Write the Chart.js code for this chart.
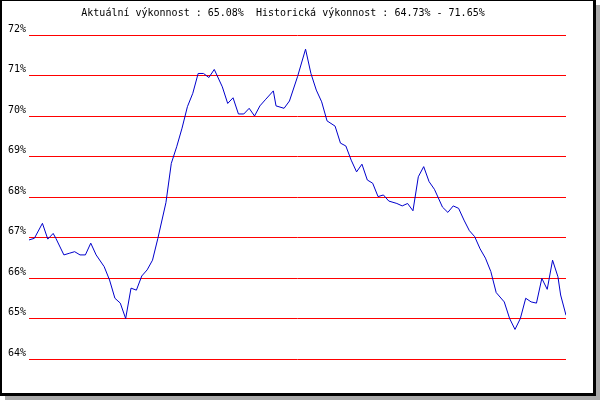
<!DOCTYPE html>
<html>
<head>
<meta charset="utf-8">
<script src="https://cdn.jsdelivr.net/npm/chart.js@4/dist/chart.umd.min.js"></script>
<style>
html,body{margin:0;padding:0;background:#fff;}
#wrap{width:600px;height:400px;position:relative;}
</style>
</head>
<body>
<div id="wrap"><canvas id="c" width="600" height="400"></canvas></div>
<script>
const titleText = 'Aktuální výkonnost : 65.08%  Historická výkonnost : 64.73% - 71.65%';
const yTicks = [64, 65, 66, 67, 68, 69, 70, 71, 72];
const days = [0,2,5,7,9,10,13,15,17,19,21,23,25,28,30,32,34,36,38,40,42,44,46,48,51,53,55,57,59,61,63,65,67,69,72,74,76,78,80,82,84,86,88,91,92,95,97,100,103,105,107,109,111,114,116,118,120,122,124,126,128,130,132,134,137,139,141,143,145,147,149,151,154,156,158,160,162,164,166,168,170,172,174,177,179,181,183,185,187,189,191,193,195,197,198,200];
const perf = [66.94,66.98,67.35,66.96,67.10,66.98,66.57,66.61,66.65,66.57,66.57,66.86,66.57,66.28,65.95,65.50,65.38,65.00,65.75,65.70,66.05,66.20,66.44,66.98,67.86,68.83,69.24,69.70,70.23,70.56,71.05,71.05,70.95,71.15,70.72,70.31,70.45,70.05,70.05,70.19,70.00,70.25,70.40,70.62,70.25,70.19,70.37,70.97,71.65,71.05,70.64,70.35,69.88,69.75,69.33,69.26,68.91,68.62,68.81,68.42,68.34,68.01,68.05,67.90,67.84,67.78,67.84,67.66,68.50,68.75,68.38,68.19,67.75,67.62,67.78,67.72,67.43,67.17,67.02,66.72,66.49,66.16,65.64,65.41,65.00,64.73,65.00,65.50,65.41,65.38,65.99,65.72,66.44,66.03,65.58,65.08];

const framePlugin = {
  id: 'frame',
  beforeDraw(chart) {
    const ctx = chart.ctx;
    ctx.save();
    ctx.fillStyle = '#ffffff';
    ctx.fillRect(0, 0, 600, 400);
    ctx.fillStyle = '#a9a9a9';
    ctx.fillRect(5, 5, 595, 395);
    ctx.fillStyle = '#ffffff';
    ctx.fillRect(0, 0, 596, 396);
    ctx.fillStyle = '#000000';
    ctx.fillRect(0, 0, 596, 1);
    ctx.fillRect(0, 0, 2, 396);
    ctx.fillRect(593, 0, 3, 396);
    ctx.fillRect(0, 393, 596, 3);
    ctx.restore();
  }
};

new Chart(document.getElementById('c'), {
  type: 'line',
  data: {
    datasets: [{
      data: days.map((d, i) => ({x: d, y: perf[i]})),
      borderColor: '#0000cc',
      borderWidth: 1,
      pointRadius: 0,
      tension: 0,
      fill: false
    }]
  },
  options: {
    responsive: false,
    animation: false,
    layout: {padding: {left: 0, right: 34, top: 0, bottom: 41}},
    plugins: {
      legend: {display: false},
      tooltip: {enabled: false},
      title: {
        display: true,
        text: titleText,
        color: '#000',
        font: {family: 'DejaVu Sans Mono', size: 10, weight: 'normal', lineHeight: 1.2},
        padding: {top: 7, bottom: 16}
      }
    },
    scales: {
      x: {type: 'linear', min: 0, max: 200, display: false},
      y: {
        min: yTicks[0],
        max: yTicks[yTicks.length - 1],
        afterFit(s) { s.width = 29; },
        afterBuildTicks(s) { s.ticks = yTicks.map(v => ({value: v})); },
        border: {display: false},
        grid: {color: '#ff0000', lineWidth: 1, drawTicks: false},
        ticks: {
          color: '#000',
          padding: 3,
          labelOffset: -6,
          font: {family: 'DejaVu Sans Mono', size: 10},
          callback: v => v + '%'
        }
      }
    }
  },
  plugins: [framePlugin]
});
</script>
</body>
</html>
